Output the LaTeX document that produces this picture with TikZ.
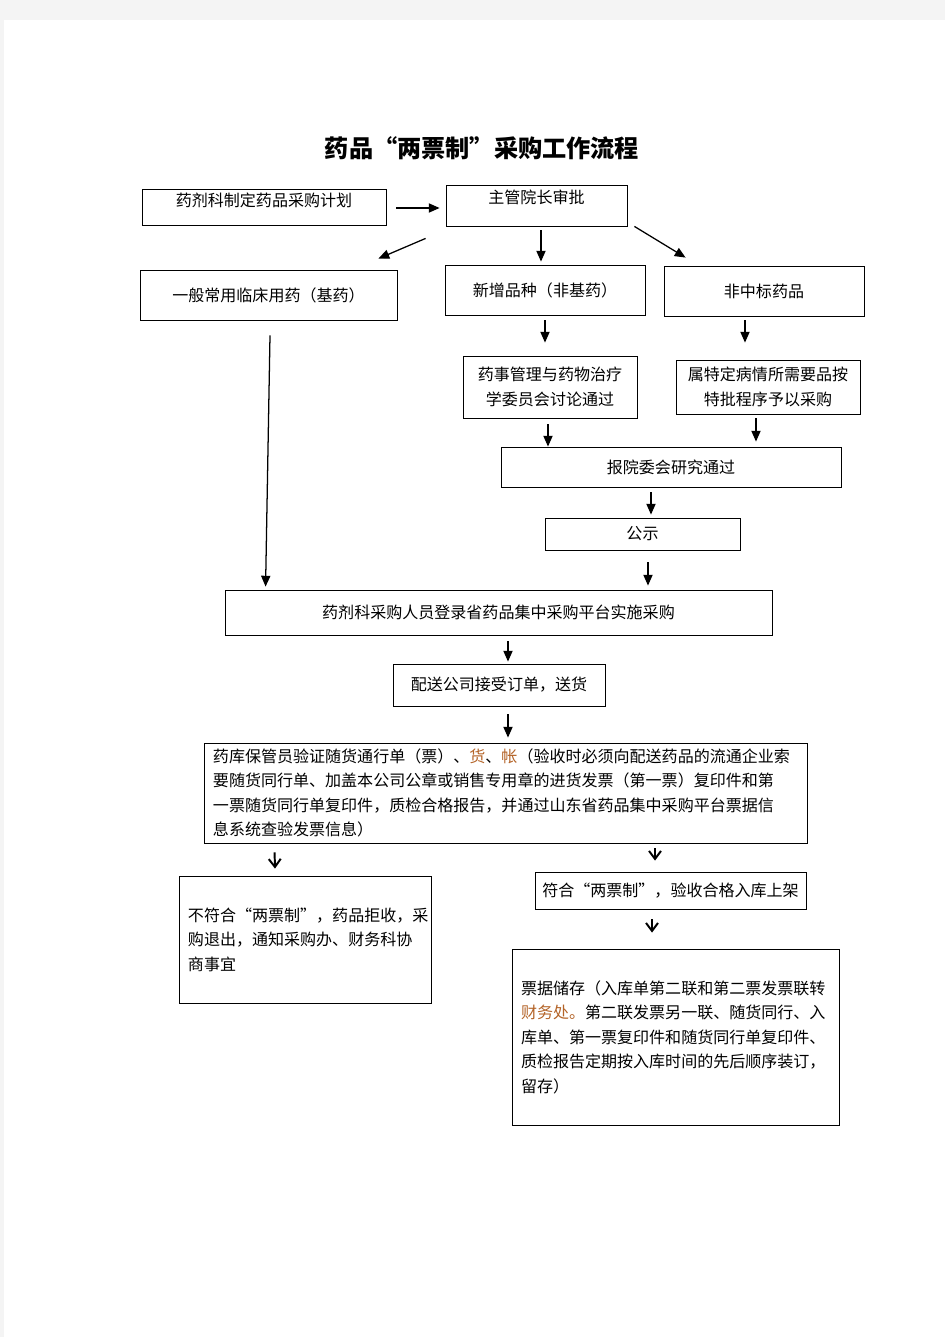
\documentclass[tikz,border=0pt]{standalone}
\usepackage{fontspec}
\newfontfamily\cjkfont{Noto Sans CJK SC}
\usepackage{tikz}
\usetikzlibrary{arrows.meta, calc}
\definecolor{pagegray}{RGB}{244,244,244}
\definecolor{markbrown}{RGB}{180,100,40}
\tikzstyle{procbox} = [rectangle, draw=black, line width=0.6pt, text centered, inner sep=0pt, font=\cjkfont\fontsize{11.4pt}{17.4pt}\selectfont]
\tikzstyle{notebox} = [procbox, align=left, inner xsep=2.25mm]
\tikzstyle{flow} = [-{Triangle[length=2.7mm, width=2.3mm]}, line width=0.9pt]
\tikzstyle{check} = [-{Straight Barb[length=2mm, width=3mm]}, line width=1.4pt]

\begin{document}
\begin{tikzpicture}[x=0.25mm, y=-0.25mm]
\useasboundingbox (0,0) rectangle (945,1337);
\fill[pagegray] (0,0) rectangle (945,1337);
\fill[white] (4,20) rectangle (945,1337);
\node (title) at (482,148) {\cjkfont\bfseries\fontsize{17.2pt}{20pt}\selectfont 药品“两票制”采购工作流程};
\node (plan) [procbox, minimum width=61mm, minimum height=9mm, text depth=3.5mm] at (264,207) {药剂科制定药品采购计划};
\node (chief) [procbox, minimum width=45.25mm, minimum height=10.25mm, text depth=4.5mm] at (536.5,205.5) {主管院长审批};
\node (basic) [procbox, minimum width=64.25mm, minimum height=12.5mm] at (268.5,295) {一般常用临床用药（基药）};
\node (newdrug) [procbox, minimum width=50mm, minimum height=12.5mm] at (545,290) {新增品种（非基药）};
\node (nonbid) [procbox, minimum width=50mm, minimum height=12.5mm] at (764,291) {非中标药品};
\node (committee) [procbox, align=center, minimum width=43.5mm, minimum height=15.5mm] at (550,387) {药事管理与药物治疗\\学委员会讨论通过};
\node (special) [procbox, align=center, minimum width=46mm, minimum height=13.5mm] at (768,387) {属特定病情所需要品按\\特批程序予以采购};
\node (board) [procbox, minimum width=85mm, minimum height=10mm] at (671,467) {报院委会研究通过};
\node (publish) [procbox, minimum width=48.75mm, minimum height=8mm] at (642.5,534) {公示};
\node (platform) [procbox, minimum width=136.75mm, minimum height=11.25mm] at (498.5,612.5) {药剂科采购人员登录省药品集中采购平台实施采购};
\node (deliver) [procbox, minimum width=53mm, minimum height=10.5mm] at (499,685) {配送公司接受订单，送货};
\node (verify) [notebox, text width=146.25mm, minimum height=25mm] at (505.5,793) {药库保管员验证随货通行单（票）、{\color{markbrown}货}、{\color{markbrown}帐}（验收时必须向配送药品的流通企业索\\要随货同行单、加盖本公司公章或销售专用章的进货发票（第一票）复印件和第\\一票随货同行单复印件，质检合格报告，并通过山东省药品集中采购平台票据信\\息系统查验发票信息）};
\node (reject) [notebox, text width=58.5mm, minimum height=31.75mm] at (305,939.5) {不符合“两票制”，药品拒收，采\\购退出，通知采购办、财务科协\\商事宜};
\node (accept) [procbox, minimum width=67.75mm, minimum height=9.25mm] at (670.5,890.5) {符合“两票制”，验收合格入库上架};
\node (archive) [notebox, text width=77.25mm, minimum height=44mm] at (675.5,1037) {票据储存（入库单第二联和第二票发票联转\\{\color{markbrown}财务处。}第二联发票另一联、随货同行、入\\库单、第一票复印件和随货同行单复印件、\\质检报告定期按入库时间的先后顺序装订，\\留存）};
\draw[flow] ($(plan.east)+(10,1)$) -- ($(chief.west)+(-6,2.5)$);
\draw[flow] ($(chief.south west)+(-20,12)$) -- ($(basic.north east)+(-19,-11)$);
\draw[flow] ($(chief.south)+(4.5,4)$) -- ($(newdrug.north)+(-4,-3)$);
\draw[flow] ($(chief.south east)+(7,0)$) -- ($(nonbid.north west)+(22,-8)$);
\draw[flow] ($(newdrug.south)+(0,5)$) -- ($(committee.north)+(-5,-13)$);
\draw[flow] ($(nonbid.south)+(-19,4)$) -- ($(special.north)+(-23,-17)$);
\draw[flow] ($(committee.south)+(-2,6)$) -- ($(board.north)+(-123,0)$);
\draw[flow] ($(special.south)+(-12,4)$) -- ($(board.north)+(85,-5)$);
\draw[flow] ($(board.south)+(-20,5)$) -- ($(publish.north)+(8.5,-3)$);
\draw[flow] ($(publish.south)+(5.5,12)$) -- ($(platform.north)+(149.5,-4)$);
\draw[flow] ($(basic.south)+(1.5,15)$) -- ($(platform.north west)+(41,-3)$);
\draw[flow] ($(platform.south)+(9.5,6)$) -- ($(deliver.north)+(9,-2)$);
\draw[flow] ($(deliver.south)+(9,8)$) -- ($(verify.north)+(2.5,-5)$);
\draw[check] ($(verify.south west)+(71,9)$) -- ($(reject.north)+(-30,-7)$);
\draw[check] ($(verify.south)+(149.5,5)$) -- ($(accept.north)+(-15.5,-11)$);
\draw[check] ($(accept.south)+(-18.5,10)$) -- ($(archive.north)+(-23.5,-16)$);
\end{tikzpicture}
\end{document}
